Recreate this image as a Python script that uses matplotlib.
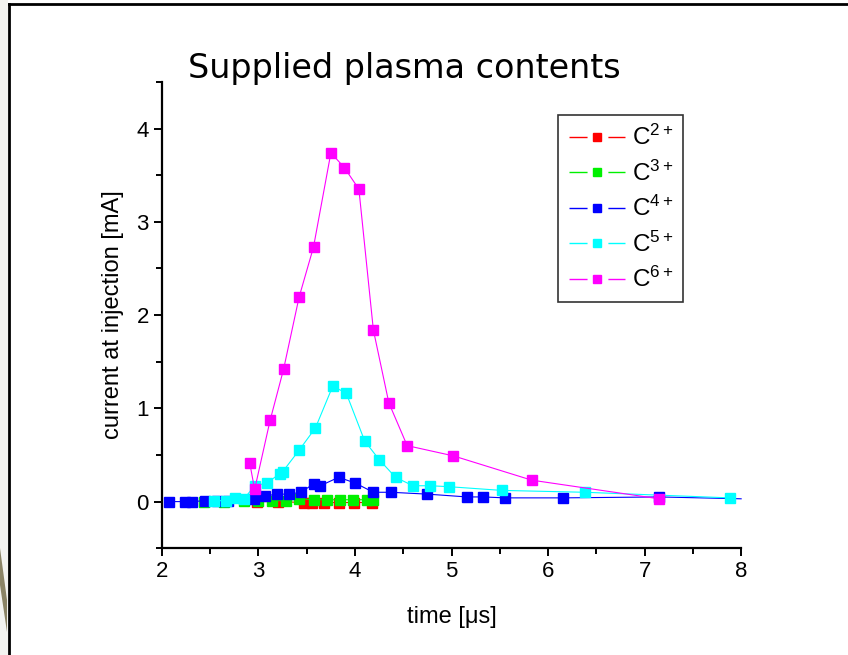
import matplotlib
matplotlib.use("Agg")
import matplotlib.pyplot as plt
from matplotlib.lines import Line2D
from matplotlib.patches import Polygon, Rectangle
from matplotlib.ticker import MultipleLocator
from matplotlib.legend_handler import HandlerLine2D

# ─── data (time in µs, current in mA) ───────────────────────────────────────
t_c2 = [2.98, 3.20, 3.47, 3.55, 3.68, 3.83, 3.99, 4.18]
i_c2 = [0.0, 0.0, -0.01, -0.01, -0.01, -0.01, -0.01, -0.01]

t_c3 = [2.44, 2.64, 2.85, 2.99, 3.14, 3.28, 3.42, 3.57, 3.71, 3.84, 3.98, 4.12, 4.19]
i_c3 = [0.0, 0.0, 0.01, 0.01, 0.01, 0.01, 0.03, 0.02, 0.02, 0.02, 0.02, 0.02, 0.02]

t_c4 = [2.07, 2.24, 2.31, 2.45, 2.57, 2.68, 2.95, 3.07, 3.19, 3.32, 3.44, 3.57,
        3.64, 3.83, 4.00, 4.19, 4.37, 4.75, 5.16, 5.33, 5.55, 6.15, 7.15, 8.00]
i_c4 = [0.0, 0.0, 0.0, 0.01, 0.01, 0.01, 0.03, 0.06, 0.08, 0.08, 0.10, 0.19,
        0.17, 0.26, 0.20, 0.10, 0.10, 0.08, 0.05, 0.05, 0.04, 0.04, 0.05, 0.03]

t_c5 = [2.54, 2.66, 2.76, 2.85, 2.96, 3.09, 3.22, 3.25, 3.42, 3.59, 3.77, 3.91,
        4.10, 4.25, 4.42, 4.60, 4.78, 4.97, 5.52, 6.38, 7.88]
i_c5 = [0.01, 0.01, 0.04, 0.03, 0.17, 0.20, 0.30, 0.32, 0.55, 0.79, 1.24, 1.16,
        0.65, 0.45, 0.26, 0.17, 0.17, 0.16, 0.12, 0.10, 0.04]

t_c6 = [2.91, 2.96, 3.12, 3.26, 3.42, 3.57, 3.75, 3.89, 4.04, 4.19, 4.35, 4.54,
        5.02, 5.83, 7.15]
i_c6 = [0.41, 0.13, 0.87, 1.42, 2.19, 2.73, 3.74, 3.58, 3.35, 1.84, 1.06, 0.60,
        0.49, 0.23, 0.03]

labels = [r"C$^{2+}$", r"C$^{3+}$", r"C$^{4+}$", r"C$^{5+}$", r"C$^{6+}$"]
colors = ["#ff0000", "#00f000", "#0000ff", "#00ffff", "#ff00ff"]

plt.rcParams["font.family"] = ["Liberation Sans", "DejaVu Sans"]
plt.rcParams["mathtext.fontset"] = "custom"
plt.rcParams["mathtext.rm"] = "Liberation Sans"
plt.rcParams["mathtext.it"] = "Liberation Sans"
plt.rcParams["lines.scale_dashes"] = False

fig = plt.figure(figsize=(8.48, 6.55), dpi=100)
ax = fig.add_axes([0.191, 0.163, 0.683, 0.712])

series = [(t_c2, i_c2), (t_c3, i_c3), (t_c4, i_c4), (t_c5, i_c5), (t_c6, i_c6)]
for (t, i), lab, col in zip(series, labels, colors):
    n = len(t)
    # last C4+ point only carries the line to the axis end
    every = list(range(n - 1)) if t is t_c4 else None
    ax.plot(t, i, color=col, lw=0.8, marker="s", ms=7.5, mec=col, mfc=col,
            label=lab, markevery=every, clip_on=False)

ax.set_xlim(2, 8)
ax.set_ylim(-0.5, 4.5)
ax.xaxis.set_major_locator(MultipleLocator(1))
ax.xaxis.set_minor_locator(MultipleLocator(0.5))
ax.yaxis.set_major_locator(MultipleLocator(1))
ax.yaxis.set_minor_locator(MultipleLocator(0.5))
ax.spines["top"].set_visible(False)
ax.spines["right"].set_visible(False)
for s in ("left", "bottom"):
    ax.spines[s].set_linewidth(1.6)
ax.tick_params(which="major", direction="out", length=6, width=1.4, labelsize=16)
ax.tick_params(which="minor", direction="out", length=4, width=1.4)
ax.set_yticks([0, 1, 2, 3, 4])

ax.set_xlabel("time [\u03bcs]", fontsize=17, labelpad=17)
ax.set_ylabel("current at injection [mA]", fontsize=17, labelpad=9)


def gap_handle(legline, orig):
    # Origin-style legend symbol: line, gap, marker, gap, line
    legline.update_from(orig)
    legline.set_dashes([13, 15])
    legline.set_linewidth(1.0)


leg = ax.legend(loc="upper right", bbox_to_anchor=(0.9, 0.929), borderaxespad=0,
                fontsize=17.5, fancybox=False, framealpha=1, edgecolor="#333333",
                handlelength=2.3, handletextpad=0.3, labelspacing=0.42,
                borderpad=0.42, markerscale=0.8,
                handler_map={Line2D: HandlerLine2D(update_func=gap_handle)})
leg.get_frame().set_linewidth(1.2)

fig.text(0.477, 0.896, "Supplied plasma contents", fontsize=24,
         family="DejaVu Sans", ha="center", va="center")

# slide frame around the picture
fig.add_artist(Rectangle((0, 0), 8 / 848, 1, transform=fig.transFigure,
                         color="#f3f3f0", lw=0))
fig.add_artist(Polygon([(0, 1 - 548 / 655), (0, 1 - 585 / 655),
                        (7 / 848, 1 - 632 / 655), (7 / 848, 1 - 600 / 655)],
                       closed=True, transform=fig.transFigure,
                       color="#8b8466", lw=0))
fig.add_artist(Line2D([8.5 / 848, 8.5 / 848], [0, 1 - 4 / 655],
                      transform=fig.transFigure, color="black", lw=2))
fig.add_artist(Line2D([8.5 / 848, 1], [1 - 4 / 655, 1 - 4 / 655],
                      transform=fig.transFigure, color="black", lw=2))

fig.savefig("out.png", dpi=100)
